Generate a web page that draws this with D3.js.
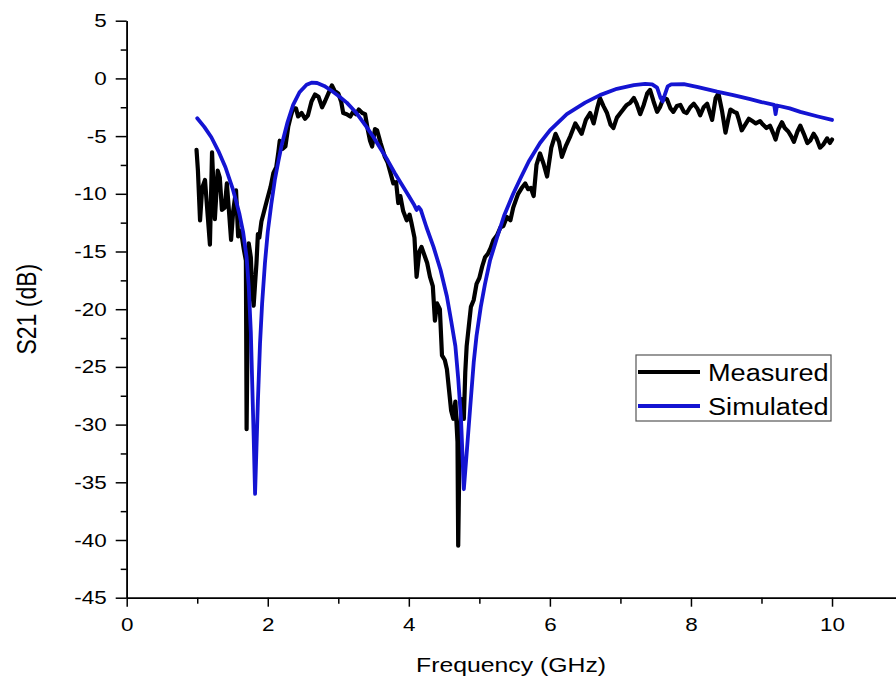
<html>
<head>
<meta charset="utf-8">
<script src="https://d3js.org/d3.v7.min.js"></script>
<style>
  body { margin: 0; background: #fff; }
  text { font-family: "Liberation Sans", Arial, sans-serif; fill: #000; }
</style>
</head>
<body>
<svg width="896" height="688" id="chart"></svg>
<script>
// measured S21
var measFreq = [0.99,1.01,1.04,1.07,1.11,1.15,1.18,1.21,1.25,1.29,1.32,1.35,1.39,1.42,1.45,1.48,1.51,1.55,1.58,1.62,
  1.66,1.69,1.70,1.72,1.73,1.76,1.78,1.80,1.82,1.84,1.86,1.88,1.91,1.94,1.97,2.00,2.04,2.08,2.12,2.15,
  2.17,2.21,2.25,2.29,2.33,2.36,2.40,2.43,2.48,2.53,2.57,2.62,2.67,2.72,2.77,2.81,2.86,2.91,2.95,3.00,
  3.04,3.07,3.12,3.17,3.21,3.25,3.29,3.34,3.38,3.42,3.45,3.48,3.52,3.55,3.60,3.66,3.70,3.74,3.78,3.82,
  3.85,3.88,3.92,3.97,4.01,4.04,4.08,4.11,4.15,4.18,4.22,4.26,4.30,4.34,4.37,4.40,4.44,4.47,4.51,4.54,
  4.57,4.60,4.63,4.66,4.69,4.70,4.72,4.75,4.78,4.80,4.82,4.85,4.88,4.92,4.96,5.00,5.04,5.08,5.12,5.16,
  5.20,5.25,5.30,5.34,5.39,5.44,5.48,5.52,5.55,5.60,5.65,5.69,5.73,5.77,5.81,5.86,5.91,5.96,6.02,6.08,
  6.13,6.17,6.23,6.29,6.36,6.41,6.45,6.51,6.57,6.62,6.67,6.71,6.76,6.81,6.86,6.90,6.95,7.00,7.05,7.09,
  7.14,7.19,7.23,7.28,7.33,7.38,7.42,7.47,7.52,7.56,7.61,7.66,7.71,7.75,7.80,7.85,7.90,7.94,7.99,8.04,
  8.09,8.13,8.18,8.23,8.27,8.30,8.35,8.39,8.44,8.49,8.53,8.56,8.61,8.65,8.68,8.72,8.77,8.82,8.87,8.92,
  8.98,9.02,9.07,9.12,9.17,9.20,9.24,9.29,9.33,9.38,9.42,9.46,9.51,9.55,9.60,9.65,9.69,9.74,9.78,9.83,
  9.88,9.93,9.97,10.00];
var measDb = [-6.2,-8.0,-12.3,-9.5,-8.8,-12.0,-14.4,-6.4,-12.2,-8.0,-8.6,-11.4,-11.2,-9.1,-11.5,-14.0,-11.5,-9.7,-13.7,-13.2,
  -14.8,-15.8,-30.4,-18.0,-14.3,-15.5,-18.5,-19.7,-17.8,-16.0,-13.5,-13.8,-12.4,-11.7,-11.0,-10.3,-9.4,-8.2,-7.7,-6.4,
  -5.4,-6.1,-5.9,-4.2,-3.2,-2.6,-2.6,-3.3,-3.0,-3.5,-3.2,-2.0,-1.4,-1.6,-2.5,-2.0,-1.3,-0.6,-1.1,-1.3,
  -2.0,-3.0,-3.1,-3.3,-2.9,-3.1,-2.7,-3.0,-3.1,-4.5,-5.4,-5.9,-4.4,-4.5,-5.6,-6.8,-7.3,-8.2,-9.1,-9.0,
  -10.8,-10.2,-11.5,-12.3,-11.8,-12.6,-13.8,-17.2,-15.0,-14.6,-15.3,-16.0,-17.2,-18.0,-21.0,-19.5,-20.0,-24.0,-24.4,-25.2,
  -27.0,-28.8,-29.5,-28.0,-31.5,-40.5,-31.5,-27.8,-29.5,-25.5,-23.2,-21.5,-19.8,-19.2,-17.8,-17.3,-16.3,-15.5,-15.2,-14.7,
  -14.0,-13.6,-12.9,-12.8,-12.0,-12.3,-11.2,-10.5,-10.0,-9.5,-9.1,-9.6,-9.5,-10.2,-7.5,-6.5,-7.4,-8.5,-6.0,-4.8,
  -5.5,-6.8,-5.8,-5.0,-3.9,-4.4,-4.8,-3.6,-3.0,-3.9,-2.6,-1.7,-2.4,-3.0,-4.0,-4.3,-3.4,-3.0,-2.6,-2.3,
  -2.1,-1.7,-2.2,-3.1,-2.3,-1.3,-1.0,-2.0,-2.9,-2.5,-1.7,-1.8,-2.6,-2.9,-2.4,-2.3,-2.9,-3.0,-2.5,-2.2,
  -2.6,-3.2,-2.5,-2.2,-3.0,-3.6,-1.7,-1.3,-2.8,-4.7,-3.5,-2.7,-2.9,-3.0,-3.6,-4.5,-4.0,-3.5,-3.7,-3.9,
  -3.7,-4.0,-4.3,-4.1,-4.8,-5.3,-4.4,-3.8,-4.3,-4.6,-5.0,-5.5,-4.6,-4.1,-4.8,-5.6,-5.4,-4.8,-5.2,-6.0,
  -5.7,-5.2,-5.6,-5.3];

// simulated S21
var simFreq = [1.0,1.1,1.2,1.3,1.4,1.5,1.55,1.6,1.65,1.7,1.73,1.76,1.78,1.8,1.82,1.84,1.86,1.89,1.92,1.96,
  2.0,2.05,2.1,2.15,2.2,2.28,2.36,2.45,2.55,2.62,2.7,2.8,2.9,3.0,3.12,3.25,3.4,3.5,3.6,3.7,
  3.8,3.9,4.0,4.07,4.11,4.14,4.17,4.25,4.35,4.45,4.54,4.6,4.66,4.7,4.74,4.78,4.82,4.87,4.92,4.96,
  5.02,5.08,5.15,5.25,5.35,5.48,5.58,5.7,5.86,6.0,6.24,6.5,6.71,6.95,7.19,7.35,7.45,7.52,7.57,7.6,
  7.63,7.67,7.72,7.9,8.1,8.37,8.6,8.84,9.0,9.18,9.2,9.22,9.4,9.55,9.8,10.0];
var simDb = [-3.45,-4.2,-5.1,-6.3,-7.7,-9.5,-10.6,-11.8,-13.3,-15.5,-18.0,-22.0,-26.5,-31.0,-36.0,-32.0,-28.0,-23.0,-19.5,-16.0,
  -13.3,-10.9,-8.8,-7.2,-5.7,-3.8,-2.3,-1.2,-0.55,-0.37,-0.4,-0.65,-1.05,-1.5,-2.1,-2.95,-4.2,-5.1,-6.1,-7.1,
  -8.2,-9.2,-10.2,-10.9,-11.4,-11.15,-11.4,-12.9,-14.6,-16.6,-18.9,-21.0,-23.2,-26.0,-29.5,-35.6,-32.5,-28.5,-24.6,-22.3,
  -19.8,-17.8,-15.8,-13.8,-11.9,-10.0,-8.7,-7.2,-5.6,-4.5,-3.1,-2.1,-1.45,-0.9,-0.58,-0.47,-0.52,-0.8,-1.7,-2.0,
  -1.4,-0.7,-0.52,-0.5,-0.75,-1.15,-1.45,-1.8,-2.05,-2.3,-3.1,-2.35,-2.6,-2.9,-3.3,-3.6];

var xMajor = [0, 2, 4, 6, 8, 10];
var xMinor = [1, 3, 5, 7, 9];
var yMajor = [-45, -40, -35, -30, -25, -20, -15, -10, -5, 0, 5];
var yMinor = [-42.5, -37.5, -32.5, -27.5, -22.5, -17.5, -12.5, -7.5, -2.5, 2.5];

var svg = d3.select("#chart");
var stretchK = 1.18;

var x = d3.scaleLinear().domain([0, 10.9]).range([126.7, 895.5]);
var y = d3.scaleLinear().domain([-45, 5]).range([597.7, 20.7]);

// text is a bit wide in the original, so stretch it
function stretch(sel) {
  sel.each(function() {
    var w = this.getComputedTextLength();
    d3.select(this).attr("textLength", w * stretchK).attr("lengthAdjust", "spacingAndGlyphs");
  });
}

// plain hyphen for negatives, like the original
var fmt = function(d) { return String(d); };

// axes
svg.append("g").attr("transform", "translate(0," + y(-45) + ")")
  .call(d3.axisBottom(x).tickValues(xMajor).tickSize(9).tickSizeOuter(0).tickPadding(11).tickFormat(fmt));
svg.append("g").attr("transform", "translate(0," + y(-45) + ")")
  .call(d3.axisBottom(x).tickValues(xMinor).tickSize(6).tickSizeOuter(0).tickFormat(""));
svg.append("g").attr("transform", "translate(" + x(0) + ",0)")
  .call(d3.axisLeft(y).tickValues(yMajor).tickSize(11).tickSizeOuter(0).tickPadding(9).tickFormat(fmt));
svg.append("g").attr("transform", "translate(" + x(0) + ",0)")
  .call(d3.axisLeft(y).tickValues(yMinor).tickSize(6).tickSizeOuter(0).tickFormat(""));

svg.selectAll(".domain").attr("stroke", "#000").attr("stroke-width", 1.6);
svg.selectAll(".tick line").attr("stroke", "#000").attr("stroke-width", 1.5);
svg.selectAll(".tick text").attr("font-size", 19).attr("font-family", "Liberation Sans, Arial, sans-serif");
stretch(svg.selectAll(".tick text"));

// axis titles
var xt = svg.append("text").attr("x", (x.range()[0] + x.range()[1]) / 2).attr("y", 672)
  .attr("text-anchor", "middle").attr("font-size", 21).text("Frequency (GHz)");
stretch(xt);
svg.append("text")
  .attr("transform", "translate(36," + ((y(5) + y(-45)) / 2) + ") rotate(-90) scale(1," + stretchK + ")")
  .attr("text-anchor", "middle").attr("font-size", 23).text("S21 (dB)");

// curves
var line = d3.line()
  .x(function(d) { return x(d[0]); })
  .y(function(d) { return y(d[1]); });

var meas = d3.zip(measFreq, measDb);
var sim = d3.zip(simFreq, simDb);

svg.append("path").attr("d", line(meas))
  .attr("fill", "none").attr("stroke", "#000").attr("stroke-width", 4.2)
  .attr("stroke-linejoin", "round").attr("stroke-linecap", "round");
svg.append("path").attr("d", line(sim))
  .attr("fill", "none").attr("stroke", "#1414d2").attr("stroke-width", 3.8)
  .attr("stroke-linejoin", "round").attr("stroke-linecap", "round");

// legend
var lg = svg.append("g").attr("transform", "translate(636,355)");
lg.append("rect").attr("width", 195).attr("height", 66)
  .attr("fill", "#fff").attr("stroke", "#555").attr("stroke-width", 1.2);
var items = [["Measured", "#000"], ["Simulated", "#1414d2"]];
items.forEach(function(it, i) {
  var cy = 17 + i * 34;
  lg.append("line").attr("x1", 2).attr("x2", 64).attr("y1", cy).attr("y2", cy)
    .attr("stroke", it[1]).attr("stroke-width", 4);
  var t = lg.append("text").attr("x", 72).attr("y", cy + 9).attr("font-size", 23).text(it[0]);
  stretch(t);
});
</script>
</body>
</html>
